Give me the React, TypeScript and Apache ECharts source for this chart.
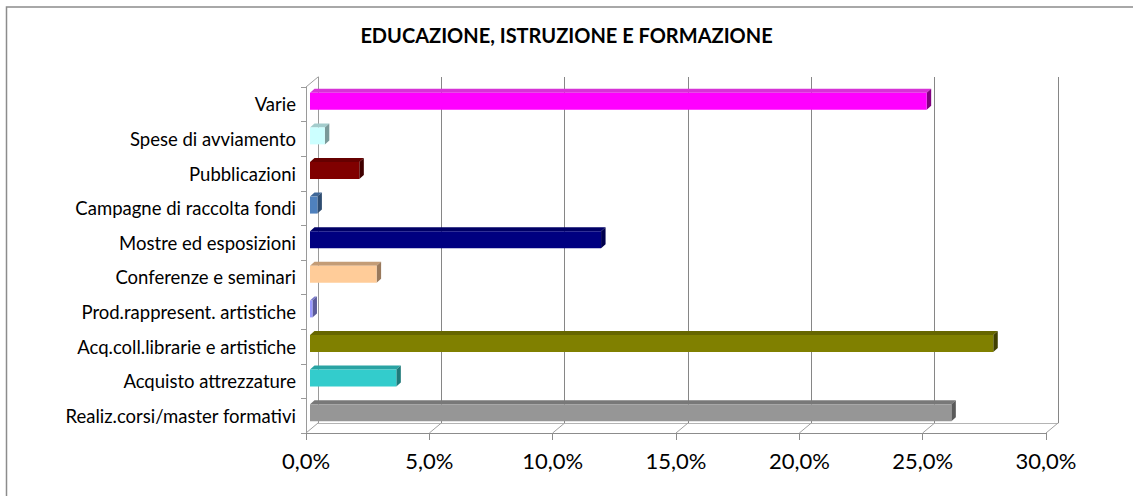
import React, { useEffect, useRef } from 'react';
import * as echarts from 'echarts';

const titleText = 'EDUCAZIONE, ISTRUZIONE E FORMAZIONE';

const categories = [
  'Realiz.corsi/master formativi',
  'Acquisto attrezzature',
  'Acq.coll.librarie e artistiche',
  'Prod.rappresent. artistiche',
  'Conferenze e seminari',
  'Mostre ed esposizioni',
  'Campagne di raccolta fondi',
  'Pubblicazioni',
  'Spese di avviamento',
  'Varie',
];

const values = [26.0, 3.5, 27.7, 0.1, 2.7, 11.8, 0.3, 2.0, 0.6, 25.0];

const frontColors = ['#969696', '#33CCCC', '#808000', '#9999FF', '#FFCC99', '#000080', '#4F81BD', '#800000', '#CCFFFF', '#FF00FF'];
const topColors = ['#787878', '#29A3A3', '#666600', '#7A7ACC', '#C49C76', '#000066', '#3F6797', '#660000', '#A3CCCC', '#D633D6'];
const sideColors = ['#5A5A5A', '#1F7A7A', '#404000', '#5C5C99', '#99795C', '#00004D', '#2F4D71', '#400000', '#7A9999', '#800080'];

const xTicks = [0, 5, 10, 15, 20, 25, 30];

// 3D depth of the wall/floor (style constants)
const DX = 12;
const DY = -10;
// bar plane offset and bar depth
const BX = 4;
const BY = -3;
const BDX = 4.5;
const BDY = -4;

const fmt = (v: number) => v.toFixed(1).replace('.', ',') + '%';

export default function App() {
  const ref = useRef<HTMLDivElement>(null);
  useEffect(() => {
    document.body.style.margin = '0';
    const chart = echarts.init(ref.current!, null, { renderer: 'svg' });
    const last = categories.length - 1;
    const edgeData: number[][] = [
      ...xTicks.map((v) => [v, 0, 1]),
      [0, last, -1],
    ];
    chart.setOption({
      animation: false,
      backgroundColor: '#ffffff',
      title: {
        text: titleText,
        left: 'center',
        top: 20,
        textStyle: { fontFamily: 'Lato', fontWeight: 'bold', fontSize: 20, color: '#000' },
      },
      graphic: [
        {
          type: 'rect',
          shape: { x: 6.5, y: 7, width: 1200, height: 600 },
          style: { fill: 'none', stroke: '#8c8c8c', lineWidth: 1.5 },
          silent: true,
        },
      ],
      grid: [
        { left: 306, top: 87, width: 740, height: 346 },
        { left: 306 + DX, top: 87 + DY, width: 740, height: 346 },
      ],
      xAxis: [
        {
          gridIndex: 0,
          type: 'value',
          min: 0,
          max: 30,
          interval: 5,
          axisLine: { show: true, lineStyle: { color: '#8c8c8c' } },
          axisTick: { show: true, length: 7, lineStyle: { color: '#8c8c8c' } },
          splitLine: { show: false },
          axisLabel: { formatter: fmt, fontFamily: 'Lato', fontSize: 22, color: '#000', margin: 16 },
        },
        {
          gridIndex: 1,
          type: 'value',
          min: 0,
          max: 30,
          interval: 5,
          axisLine: { show: true, lineStyle: { color: '#b4b4b4' } },
          axisTick: { show: false },
          axisLabel: { show: false },
          splitLine: { show: true, lineStyle: { color: '#868686' } },
        },
      ],
      yAxis: [
        {
          gridIndex: 0,
          type: 'category',
          data: categories,
          axisLine: { show: true, lineStyle: { color: '#9a9a9a' } },
          axisTick: { show: true, length: 5, lineStyle: { color: '#9a9a9a' } },
          axisLabel: { fontFamily: 'Lato', fontSize: 18.5, color: '#000', margin: 10 },
          splitLine: { show: false },
        },
        {
          gridIndex: 1,
          type: 'category',
          data: categories,
          axisLine: { show: true, lineStyle: { color: '#9a9a9a' } },
          axisTick: { show: false },
          axisLabel: { show: false },
          splitLine: { show: false },
        },
      ],
      series: [
        {
          type: 'custom',
          name: 'edges',
          xAxisIndex: 0,
          yAxisIndex: 0,
          silent: true,
          data: edgeData,
          renderItem: (params: any, api: any) => {
            const p = api.coord([api.value(0), api.value(1)]);
            const band = api.size([0, 1])[1];
            const y = p[1] + (api.value(2) * band) / 2;
            return {
              type: 'line',
              shape: { x1: p[0], y1: y, x2: p[0] + DX, y2: y + DY },
              style: { stroke: '#a0a0a0', lineWidth: 1 },
            };
          },
        },
        {
          type: 'custom',
          name: 'bars',
          xAxisIndex: 0,
          yAxisIndex: 0,
          data: values.map((v, i) => [v, i]),
          renderItem: (params: any, api: any) => {
            const i = params.dataIndex;
            const s = api.coord([0, api.value(1)]);
            const e = api.coord([api.value(0), api.value(1)]);
            const band = api.size([0, 1])[1];
            const h = band * 0.49;
            const x0 = s[0] + BX;
            const x1 = e[0] + BX;
            const yT = s[1] + BY - h / 2;
            const yB = yT + h;
            return {
              type: 'group',
              children: [
                {
                  type: 'polygon',
                  shape: { points: [[x0, yT], [x1, yT], [x1 + BDX, yT + BDY], [x0 + BDX, yT + BDY]] },
                  style: { fill: topColors[i] },
                },
                {
                  type: 'polygon',
                  shape: { points: [[x1, yT], [x1 + BDX, yT + BDY], [x1 + BDX, yB + BDY], [x1, yB]] },
                  style: { fill: sideColors[i] },
                },
                {
                  type: 'rect',
                  shape: { x: x0, y: yT, width: x1 - x0, height: h },
                  style: { fill: frontColors[i] },
                },
              ],
            };
          },
        },
      ],
    });
    return () => chart.dispose();
  }, []);
  return <div ref={ref} style={{ width: 1133, height: 496 }} />;
}
